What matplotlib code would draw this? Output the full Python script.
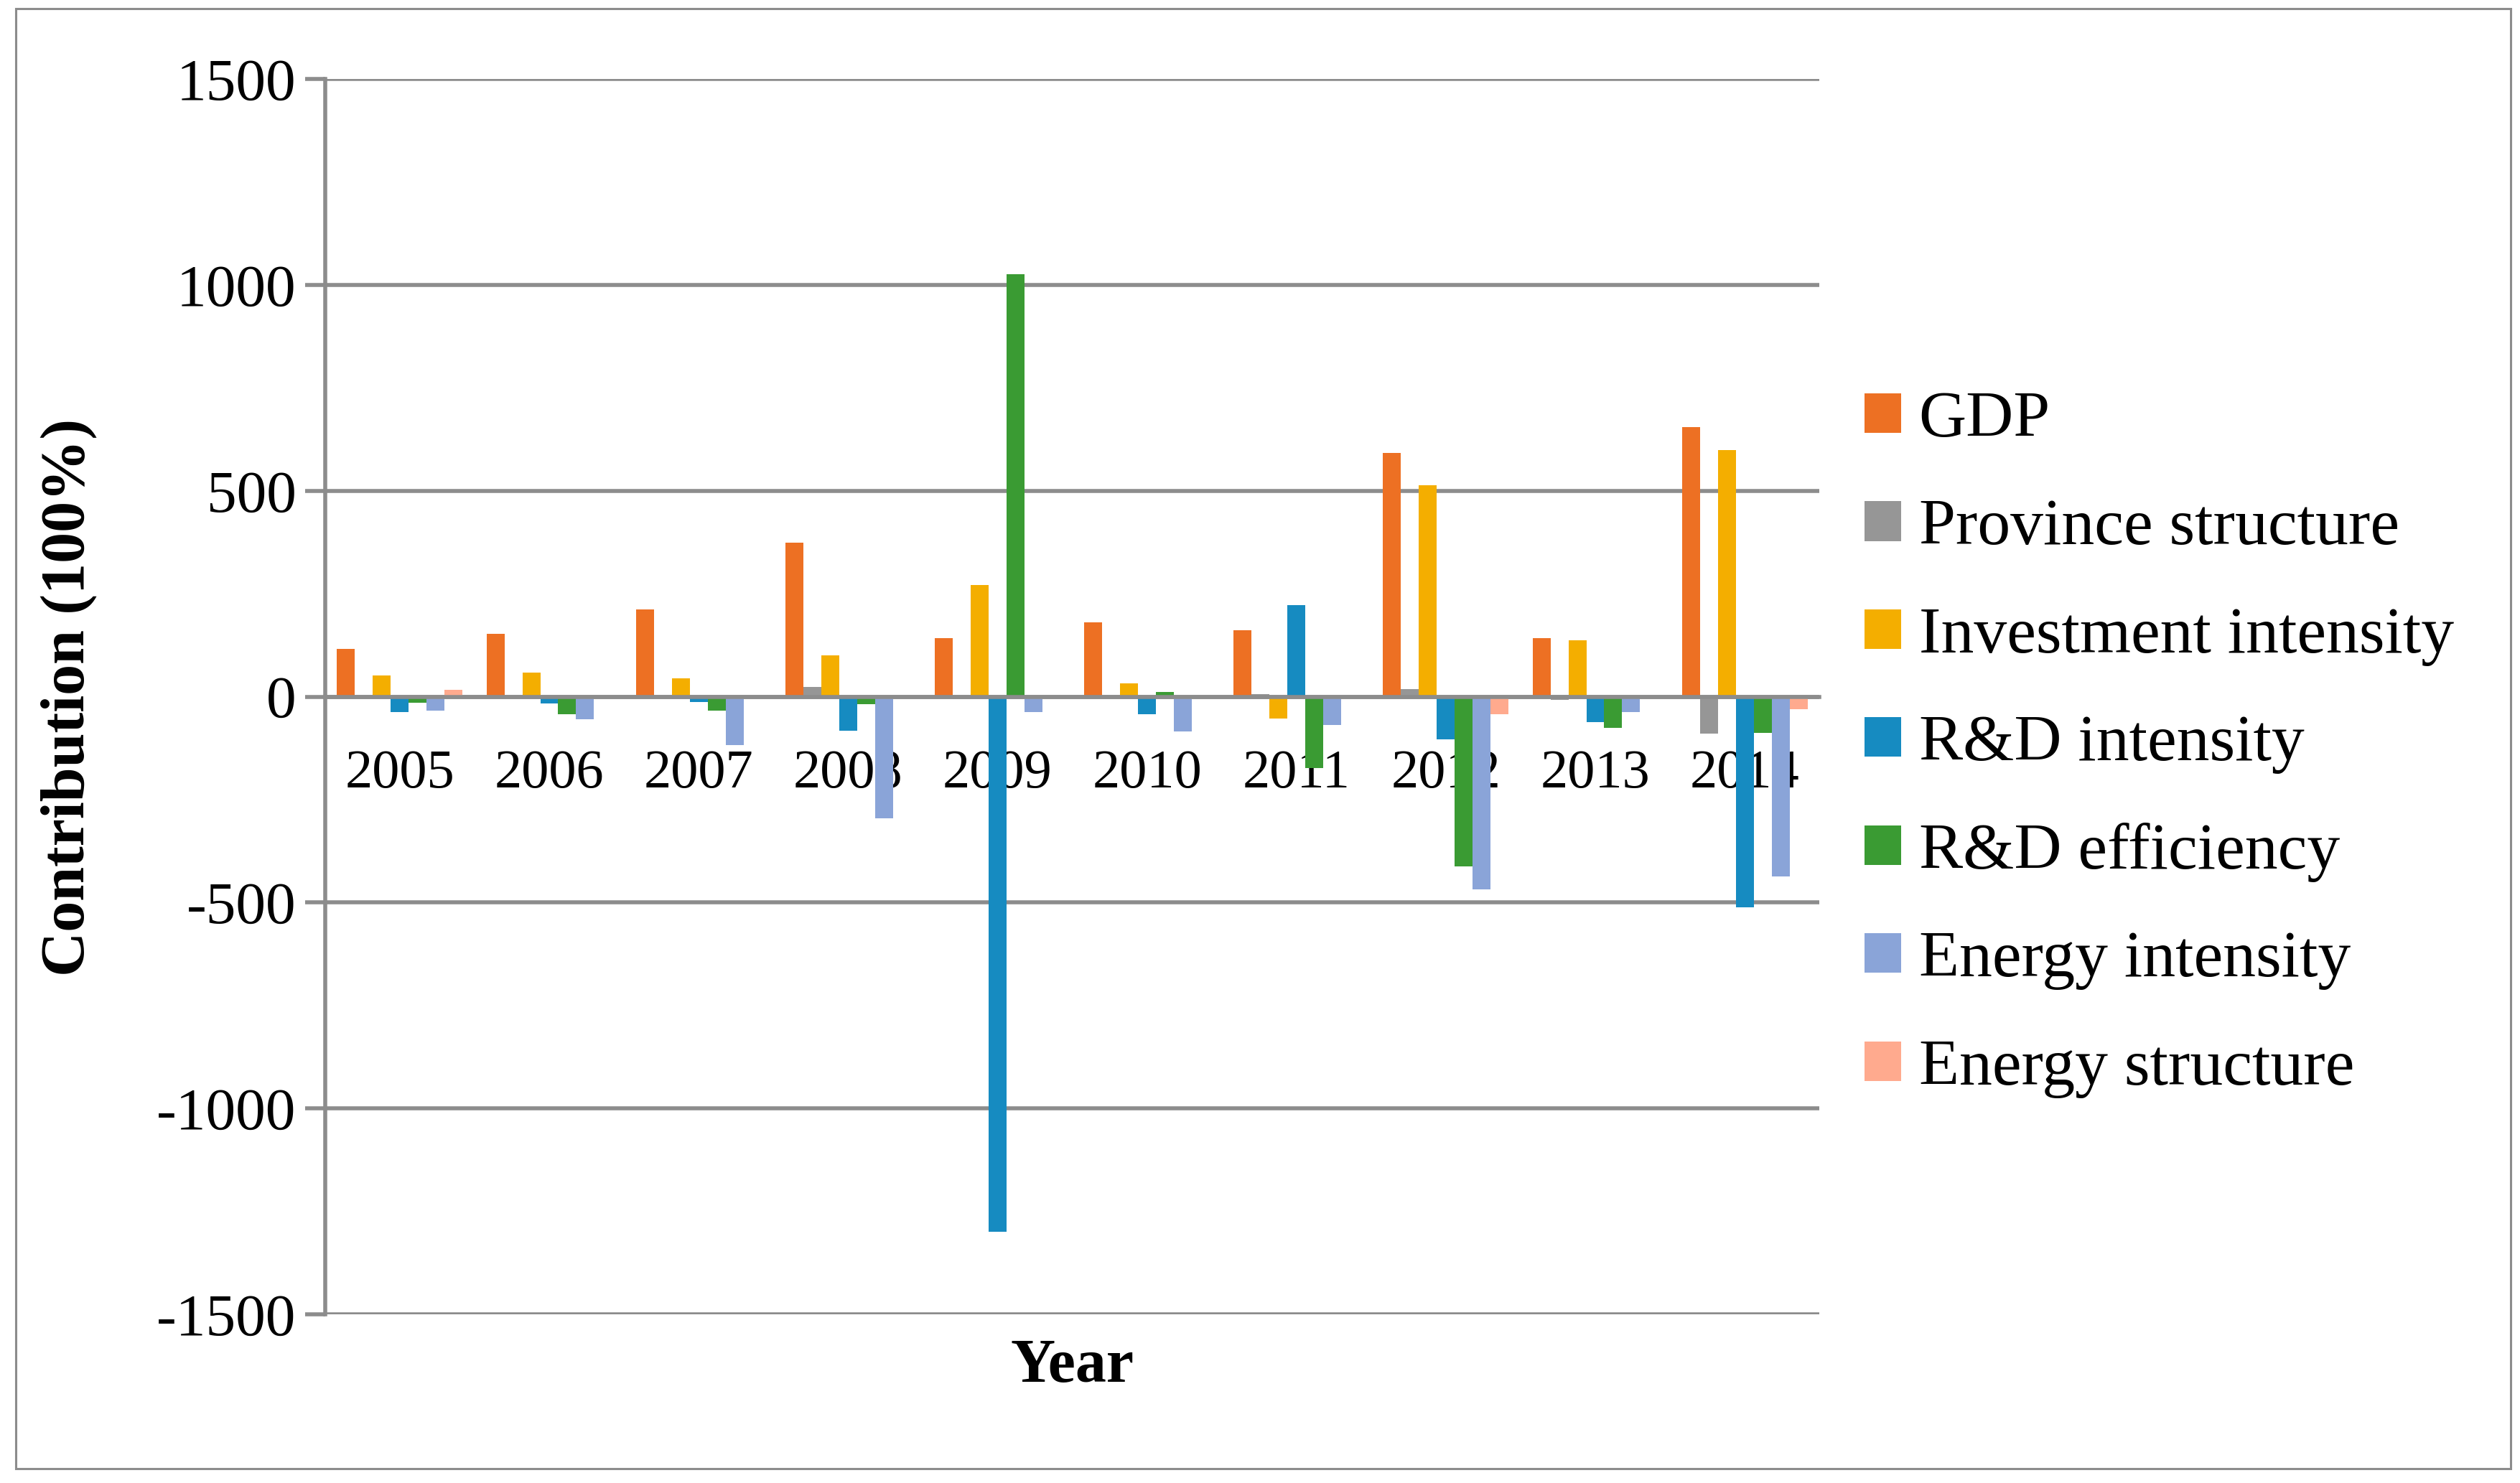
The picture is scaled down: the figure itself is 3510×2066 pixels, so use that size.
import matplotlib
matplotlib.use("Agg")
import matplotlib.pyplot as plt
import matplotlib.patches as patches
import numpy as np

# データ
years = ["2005", "2006", "2007", "2008", "2009", "2010", "2011", "2012", "2013", "2014"]
gdp = [116, 153, 212, 374, 142, 180, 161, 591, 142, 655]
province_structure = [0, 0, 3, 23, -6, 3, 6, 19, -8, -89]
investment_intensity = [51, 58, 44, 100, 271, 32, -54, 514, 136, 598]
rd_intensity = [-38, -17, -13, -83, -1300, -43, 223, -104, -62, -512]
rd_efficiency = [-15, -43, -34, -18, 1025, 11, -173, -413, -76, -88]
energy_intensity = [-34, -55, -118, -296, -38, -85, -69, -468, -38, -436]
energy_structure = [16, 0, 0, 0, 0, 0, 0, -42, 0, -31]

series_names = ["GDP", "Province structure", "Investment intensity", "R&D intensity",
                "R&D efficiency", "Energy intensity", "Energy structure"]
series = [gdp, province_structure, investment_intensity, rd_intensity,
          rd_efficiency, energy_intensity, energy_structure]
colors = ["#ED7023", "#969696", "#F4AE00", "#168BC1", "#3A9B33", "#8AA4D8", "#FFAA8E"]

grid_color = "#8c8c8c"
serif = ["Liberation Serif", "DejaVu Serif"]
plt.rcParams["font.family"] = serif
plt.rcParams["axes.unicode_minus"] = False

fig = plt.figure(figsize=(35.1, 20.66), dpi=100)
ax = fig.add_axes([0.129, 0.1137, 0.722 - 0.129, 0.9468 - 0.1137])

x = np.arange(len(years))
w = 0.12
for i, (name, vals, c) in enumerate(zip(series_names, series, colors)):
    ax.bar(x + (i - 3) * w, vals, width=w, color=c, label=name, linewidth=0)

ax.set_xlim(-0.5, len(years) - 0.5)
ax.set_ylim(-1500, 1500)
ax.set_yticks(np.arange(-1500, 1501, 500))
ax.set_xticks(x)
ax.set_xticklabels(years)

ax.set_axisbelow(True)
ax.yaxis.grid(True, color=grid_color, linewidth=4)
ax.spines["top"].set_visible(False)
ax.spines["right"].set_visible(False)
ax.spines["left"].set_color(grid_color)
ax.spines["left"].set_linewidth(4)
ax.spines["bottom"].set_position(("data", 0))
ax.spines["bottom"].set_color(grid_color)
ax.spines["bottom"].set_linewidth(4)

ax.tick_params(axis="y", direction="out", length=20, width=4, color=grid_color,
               labelsize=60, pad=9)
ax.tick_params(axis="x", length=0, labelsize=55, pad=53)

fig.text(0.0274, 0.530, "Contribution (100%)", rotation=90, ha="center", va="center",
         fontsize=62, fontweight="bold")
fig.text(0.4255, 0.078, "Year", ha="center", va="center", fontsize=62, fontweight="bold")

ax.legend(loc="center left", bbox_to_anchor=(0.740, 0.498), bbox_transform=fig.transFigure,
          frameon=False, fontsize=66, handlelength=0.55, handleheight=0.55,
          handletextpad=0.27, labelspacing=0.74, borderpad=0, borderaxespad=0)

# 外枠
fig.patches.append(patches.Rectangle((22 / 3510, 20 / 2066), (3497 - 22) / 3510, (2054 - 20) / 2066,
                                     transform=fig.transFigure, fill=False,
                                     edgecolor=grid_color, linewidth=2.2))

fig.savefig("out.png", dpi=100)
